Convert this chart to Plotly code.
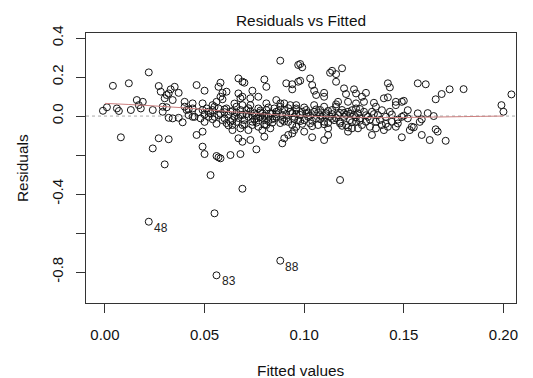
import plotly.graph_objects as go

# ---- data (fitted value, residual) ----
fitted_values = [
    0.022, 0.004, 0.012, -0.001, 0.001, 0.006, 0.007, 0.013, 0.016, 0.017,
    0.018, 0.019, 0.024, 0.027, 0.028, 0.030, 0.031, 0.032, 0.033, 0.035,
    0.037, 0.034, 0.029, 0.031, 0.029, 0.032, 0.034, 0.037, 0.039, 0.040,
    0.040, 0.041, 0.042, 0.042, 0.044, 0.008, 0.027, 0.032, 0.024, 0.030,
    0.046,
    0.088, 0.050, 0.058, 0.057, 0.067, 0.069, 0.070, 0.080, 0.081, 0.074,
    0.091, 0.094, 0.094, 0.097, 0.097, 0.059, 0.061, 0.058, 0.059, 0.067,
    0.068, 0.069, 0.073, 0.077, 0.081, 0.086, 0.088, 0.090, 0.093, 0.096,
    0.044, 0.044, 0.045, 0.048, 0.049, 0.049, 0.051, 0.052, 0.054, 0.054,
    0.055, 0.056, 0.057, 0.059, 0.060, 0.061, 0.063, 0.064, 0.065, 0.066,
    0.068, 0.069, 0.069, 0.070, 0.071, 0.072, 0.073, 0.074, 0.075, 0.076,
    0.077, 0.078, 0.079, 0.080, 0.081, 0.082, 0.083, 0.085, 0.085, 0.086,
    0.088, 0.089, 0.090, 0.091, 0.093, 0.095, 0.096, 0.097,
    0.049, 0.046, 0.063, 0.064, 0.064, 0.068, 0.069, 0.072, 0.074, 0.077,
    0.079, 0.081, 0.083, 0.067, 0.069, 0.073, 0.080, 0.076, 0.089, 0.090,
    0.092, 0.094, 0.095, 0.096, 0.049, 0.050, 0.056, 0.057, 0.058, 0.063,
    0.068,
    0.098, 0.099, 0.098, 0.103, 0.104, 0.105, 0.106, 0.110, 0.110, 0.113,
    0.114, 0.116, 0.116, 0.119, 0.120, 0.121, 0.125, 0.126, 0.129, 0.131,
    0.117, 0.122, 0.126, 0.130, 0.135, 0.136, 0.140, 0.142, 0.142, 0.143,
    0.146, 0.149, 0.143, 0.146,
    0.096, 0.099, 0.100, 0.101, 0.102, 0.103, 0.105, 0.105, 0.106, 0.107,
    0.108, 0.109, 0.110, 0.110, 0.111, 0.112, 0.113, 0.114, 0.115, 0.116,
    0.117, 0.118, 0.119, 0.120, 0.121, 0.122, 0.123, 0.124, 0.125, 0.126,
    0.126, 0.127, 0.128, 0.129, 0.130, 0.131, 0.132, 0.133, 0.134, 0.136,
    0.136, 0.137, 0.139, 0.140, 0.141, 0.142, 0.144, 0.146, 0.147, 0.149,
    0.104, 0.110, 0.112, 0.100, 0.122, 0.134,
    0.157, 0.161, 0.166, 0.169, 0.173, 0.180, 0.204, 0.199, 0.200, 0.150,
    0.157, 0.152, 0.159, 0.165, 0.154, 0.155, 0.153, 0.166, 0.167, 0.149,
    0.159, 0.163, 0.171,
    0.022, 0.056, 0.088, 0.055, 0.069, 0.118, 0.053,
    0.062, 0.066, 0.067, 0.071, 0.073, 0.075, 0.076, 0.078, 0.079, 0.080,
    0.082, 0.084, 0.084, 0.086, 0.087, 0.089, 0.091, 0.092, 0.094, 0.095,
    0.098, 0.099, 0.101, 0.103, 0.104, 0.107, 0.108, 0.111, 0.112, 0.114,
    0.116, 0.118, 0.119, 0.121, 0.123, 0.124, 0.127, 0.128, 0.131, 0.133,
    0.135, 0.138, 0.139, 0.141, 0.144, 0.147, 0.150, 0.152, 0.158, 0.162,
    0.047, 0.050, 0.053, 0.055, 0.057, 0.060, 0.061, 0.065,
    0.050, 0.052, 0.054, 0.056, 0.058, 0.060, 0.062, 0.064, 0.066, 0.068,
    0.070, 0.072, 0.074, 0.076, 0.078, 0.080, 0.082, 0.084, 0.086, 0.088,
    0.090, 0.092, 0.094, 0.096, 0.098, 0.100, 0.102, 0.104, 0.106, 0.108,
    0.110, 0.112, 0.114, 0.116, 0.118, 0.120, 0.122, 0.124, 0.126, 0.128,
]

residual_values = [
    0.224, 0.155, 0.168, 0.027, 0.045, 0.039, 0.026, 0.031, 0.082, 0.056,
    0.039, 0.073, 0.031, 0.154, 0.125, 0.091, 0.108, 0.116, 0.137, 0.150,
    0.119, 0.082, 0.048, 0.045, 0.022, -0.009, -0.012, -0.009, -0.032, 0.073,
    0.048, 0.031, 0.034, 0.005, -0.004, -0.109, -0.114, -0.119, -0.166, -0.248,
    0.159,
    0.284, 0.130, 0.171, 0.150, 0.193, 0.176, 0.171, 0.188, 0.150, 0.130,
    0.168, 0.163, 0.137, 0.176, 0.262, 0.119, 0.125, 0.099, 0.086, 0.116,
    0.091, 0.099, 0.091, 0.099, 0.065, 0.082, 0.065, 0.065, 0.056, 0.056,
    0.065, 0.039, -0.004, -0.012, 0.065, 0.031, 0.039, -0.004, 0.056, 0.031,
    -0.004, 0.073, 0.039, -0.021, -0.012, 0.039, 0.022, -0.021, -0.004, 0.048,
    0.031, 0.056, 0.005, -0.021, 0.031, -0.004, 0.056, -0.029, 0.014, -0.012,
    0.039, -0.004, 0.014, -0.021, 0.031, -0.004, 0.014, 0.039, -0.012, 0.022,
    0.048, 0.005, 0.031, -0.012, 0.022, -0.004, 0.031, -0.021,
    -0.080, -0.097, -0.029, -0.072, -0.046, -0.063, -0.046, -0.072, -0.046, -0.055,
    -0.072, -0.046, -0.063, -0.114, -0.132, -0.123, -0.106, -0.171, -0.140, -0.114,
    -0.097, -0.089, -0.072, -0.055, -0.157, -0.195, -0.205, -0.212, -0.217, -0.200,
    -0.195,
    0.267, 0.250, 0.181, 0.193, 0.159, 0.130, 0.108, 0.099, 0.119, 0.222,
    0.232, 0.215, 0.176, 0.245, 0.142, 0.113, 0.137, 0.116, 0.099, 0.119,
    0.073, 0.073, 0.065, 0.073, 0.068, 0.048, 0.091, 0.096, 0.168, 0.147,
    0.073, 0.073, 0.022, 0.056,
    0.039, 0.022, -0.021, 0.031, -0.004, -0.038, 0.022, 0.056, -0.012, -0.046,
    0.031, -0.004, -0.029, 0.048, 0.014, -0.063, -0.004, 0.031, -0.021, 0.048,
    0.005, -0.029, 0.031, -0.004, -0.046, 0.022, -0.021, -0.063, 0.005, -0.029,
    0.039, -0.063, -0.012, -0.046, 0.022, -0.029, -0.004, -0.055, 0.022, -0.029,
    -0.063, 0.005, -0.046, -0.072, -0.004, -0.055, -0.029, -0.055, -0.038, -0.004,
    -0.109, -0.123, -0.097, -0.080, -0.080, -0.097,
    0.168, 0.163, 0.086, 0.113, 0.137, 0.138, 0.111, 0.056, 0.022, 0.078,
    0.014, -0.012, -0.017, 0.000, -0.055, -0.058, -0.072, -0.068, -0.080, -0.109,
    -0.097, -0.123, -0.127,
    -0.542, -0.817, -0.742, -0.499, -0.373, -0.328, -0.303,
    0.008, 0.018, -0.010, 0.010, 0.024, -0.018, 0.005, 0.028, -0.008, 0.002,
    -0.026, 0.012, -0.034, -0.002, 0.026, -0.020, 0.010, -0.030, 0.015, -0.015,
    0.006, -0.040, 0.012, 0.002, -0.024, 0.018, -0.016, 0.004, -0.036, 0.010,
    -0.010, 0.016, -0.050, 0.006, 0.012, -0.032, 0.014, -0.024, 0.004, -0.018,
    0.010, -0.020, 0.030, -0.040, 0.008, -0.018, 0.002, 0.030, -0.030, 0.015,
    0.020, 0.008, 0.014, 0.048, 0.005, 0.020, -0.036, 0.064,
    -0.030, 0.022, -0.016, -0.040, 0.012, 0.034, -0.048, 0.026, -0.030, 0.006,
    -0.042, 0.040, 0.002, -0.034, 0.018, -0.044, 0.044, -0.016, 0.010, -0.036,
    -0.028, 0.040, -0.046, 0.012, -0.026, 0.044, 0.018, -0.052, 0.034, 0.004,
    -0.042, 0.026, -0.014, 0.060, -0.038, 0.016, -0.058, 0.030, -0.006, 0.036,
]

# labelled observations
label_ids = ["48", "83", "88"]
label_fitted = [0.022, 0.056, 0.088]
label_resid = [-0.542, -0.817, -0.742]

# lowess smoother
smooth_x = [0.000, 0.020, 0.040, 0.060, 0.080, 0.100, 0.120, 0.140, 0.160, 0.180, 0.200]
smooth_y = [0.065, 0.055, 0.042, 0.025, 0.010, 0.000, -0.005, -0.008, -0.006, -0.003, 0.000]

x_ticks = [0.00, 0.05, 0.10, 0.15, 0.20]
x_tick_text = ["0.00", "0.05", "0.10", "0.15", "0.20"]
y_ticks = [-0.8, -0.6, -0.4, -0.2, 0.0, 0.2, 0.4]
y_tick_text = ["-0.8", "", "-0.4", "", "0.0", "0.2", "0.4"]

FONT = "Liberation Sans, Arial, sans-serif"

fig = go.Figure()
fig.add_trace(go.Scatter(
    x=fitted_values, y=residual_values, mode="markers",
    marker=dict(symbol="circle-open", size=7, color="#151515",
                line=dict(width=1, color="#151515")),
    hoverinfo="skip", showlegend=False,
))
fig.add_trace(go.Scatter(
    x=smooth_x, y=smooth_y, mode="lines",
    line=dict(color="#cc7f7f", width=1, shape="spline"),
    hoverinfo="skip", showlegend=False,
))

fig.add_shape(type="line", xref="paper", yref="y", x0=0, x1=1, y0=0, y1=0,
              line=dict(color="#a8a8a8", width=1, dash="dot"), layer="below")

for lab, lx, ly in zip(label_ids, label_fitted, label_resid):
    fig.add_annotation(x=lx, y=ly, text=lab, showarrow=False,
                       xanchor="left", yanchor="middle", xshift=3, yshift=-6,
                       font=dict(family=FONT, size=12, color="#222222"))

fig.add_annotation(xref="paper", yref="paper", x=0.5, y=1, yshift=13,
                   text="Residuals vs Fitted", showarrow=False,
                   xanchor="center", yanchor="middle",
                   font=dict(family=FONT, size=15.4, color="#111111"))
fig.add_annotation(xref="paper", yref="paper", x=0.5, y=0, yshift=-67,
                   text="Fitted values", showarrow=False,
                   xanchor="center", yanchor="middle",
                   font=dict(family=FONT, size=15.4, color="#111111"))
fig.add_annotation(xref="paper", yref="paper", x=0, y=0.5, xshift=-64,
                   text="Residuals", showarrow=False, textangle=-90,
                   xanchor="center", yanchor="middle",
                   font=dict(family=FONT, size=15.4, color="#111111"))

axis_common = dict(showgrid=False, zeroline=False, showline=True, mirror=True,
                   linecolor="#333333", linewidth=1, ticks="outside",
                   ticklen=9, tickwidth=1, tickcolor="#333333", automargin=False,
                   tickfont=dict(family=FONT, size=15, color="#111111"))

fig.update_layout(
    width=533, height=378,
    margin=dict(l=86, r=17, t=33, b=75, autoexpand=False),
    paper_bgcolor="white", plot_bgcolor="white",
    xaxis=dict(range=[-0.0095, 0.2063], tickvals=x_ticks, ticktext=x_tick_text,
               ticklabelstandoff=9, **axis_common),
    yaxis=dict(range=[-0.959, 0.426], tickvals=y_ticks, ticktext=y_tick_text,
               tickangle=-90, ticklabelstandoff=7, **axis_common),
)

fig.write_html("out.html", config={"displayModeBar": False},
               post_script="document.body.style.margin='0';document.body.style.overflow='hidden';")
